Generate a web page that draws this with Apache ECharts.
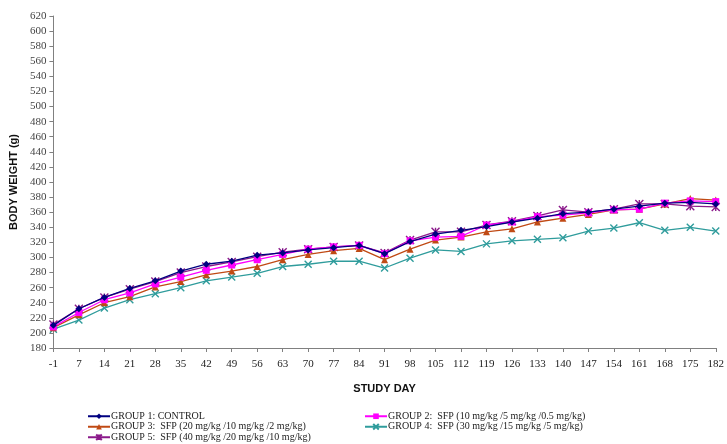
<!DOCTYPE html>
<html>
<head>
<meta charset="utf-8">
<script src="https://cdn.jsdelivr.net/npm/echarts@6/dist/echarts.min.js"></script>
<style>
html,body{margin:0;padding:0;background:#fff;}
#c{width:727px;height:444px;}
</style>
</head>
<body>
<div id="c"></div>
<script>
const days = ['-1','7','14','21','28','35','42','49','56','63','70','77','84','91','98','105','112','119','126','133','140','147','154','161','168','175','182'];
const group1 = [210,232,247,259,269,282,291,295,303,306,310,313,316,305,321,331,336,341,347,352,358,360,364,368,372,373,371];
const group2 = [208,227,244,253,265,274,283,290,297,304,311,314,316,305,322,327,328,343,347,354,356,359,363,364,372,375,374];
const group3 = [207,224,240,248,261,268,277,282,288,297,304,309,312,297,311,323,327,334,338,347,352,357,363,364,371,378,376];
const group4 = [205,217,233,244,252,260,269,274,279,288,291,295,295,286,299,310,308,318,322,324,326,335,339,346,336,340,335];
const group5 = [211,232,247,258,268,280,288,294,301,307,311,314,316,306,323,334,334,343,348,355,363,360,364,371,371,368,367];
const names = [
  'GROUP 1: CONTROL',
  'GROUP 2:  SFP (10 mg/kg /5 mg/kg /0.5 mg/kg)',
  'GROUP 3:  SFP (20 mg/kg /10 mg/kg /2 mg/kg)',
  'GROUP 4:  SFP (30 mg/kg /15 mg/kg /5 mg/kg)',
  'GROUP 5:  SFP (40 mg/kg /20 mg/kg /10 mg/kg)'
];
const yTicks = {min:180, max:620, step:20};

const colors = ['#000080','#FF00FF','#C04A14','#2F9C9C','#8B1A8B'];
const symbols = ['diamond','rect','triangle','path://M0,0L10,10M10,0L0,10','path://M0,0L10,10M10,0L0,10M5,0L5,10'];
const sizes = [7,7,7,7,8];
const data = [group1,group2,group3,group4,group5];

const serif = 'Liberation Serif';
const series = data.map((d,i)=>({
  name: names[i],
  type: 'line',
  data: d,
  symbol: symbols[i],
  symbolSize: sizes[i],
  showAllSymbol: true,
  lineStyle: {color: colors[i], width: 1.3},
  itemStyle: {color: i>=3 ? 'rgba(0,0,0,0)' : colors[i], borderColor: colors[i], borderWidth: i>=3 ? 1.4 : 0},
  emphasis: {disabled: true},
  z: 10 - i
}));

const chart = echarts.init(document.getElementById('c'), null, {renderer:'canvas'});
const legendCommon = {
  orient: 'vertical',
  itemWidth: 22,
  itemHeight: 7,
  itemGap: 0,
  height: 60,
  textStyle: {fontFamily: serif, fontSize: 10, lineHeight: 10.5, color: '#222', padding:[0,0,0,-4]},
  padding: 0
};
chart.setOption({
  animation: false,
  backgroundColor: '#fff',
  grid: {left: 52, right: 7, top: 16, bottom: 96},
  legend: [
    Object.assign({}, legendCommon, {left: 87, top: 411, data: [names[0], names[2], names[4]]}),
    Object.assign({}, legendCommon, {left: 364, top: 411, data: [names[1], names[3]]})
  ],
  xAxis: {
    type: 'category',
    data: days,
    boundaryGap: false,
    name: 'STUDY DAY',
    nameLocation: 'middle',
    nameGap: 35,
    nameTextStyle: {fontFamily: 'Liberation Sans', fontWeight: 'bold', fontSize: 11, color: '#111'},
    axisLine: {lineStyle: {color: '#808080', width: 1}},
    axisTick: {alignWithLabel: true, length: 4, lineStyle: {color: '#808080'}},
    axisLabel: {fontFamily: serif, fontSize: 11, color: '#222', margin: 11, interval: 0},
    splitLine: {show: false}
  },
  yAxis: {
    type: 'value',
    min: yTicks.min,
    max: yTicks.max,
    interval: yTicks.step,
    name: 'BODY WEIGHT (g)',
    nameLocation: 'middle',
    nameGap: 29,
    nameTextStyle: {fontFamily: 'Liberation Sans', fontWeight: 'bold', fontSize: 11, color: '#111'},
    axisLine: {show: true, lineStyle: {color: '#808080', width: 1}},
    axisTick: {show: true, length: 4, lineStyle: {color: '#808080'}},
    axisLabel: {fontFamily: serif, fontSize: 11, color: '#444', margin: 7},
    splitLine: {show: false}
  },
  series: series
});
</script>
</body>
</html>
